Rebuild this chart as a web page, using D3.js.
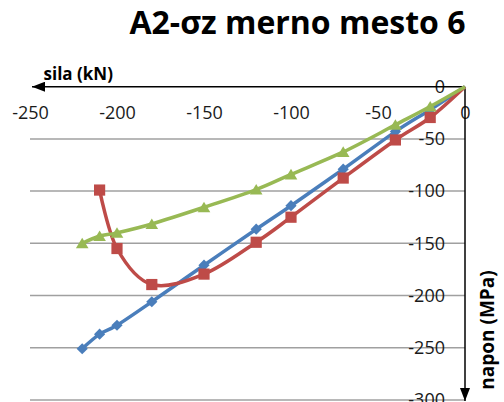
<!DOCTYPE html>
<html>
<head>
<meta charset="utf-8">
<script src="https://cdn.jsdelivr.net/npm/d3@7"></script>
<style>
  html, body { margin: 0; padding: 0; background: #fff; }
  svg { display: block; }
  text { font-family: "Open Sans", "Noto Sans", sans-serif; }
</style>
</head>
<body>
<svg id="chart" width="504" height="402"></svg>
<script>
// Force (kN) at each load step
const sila = [0, -20, -40, -70, -100, -120, -150, -180, -200, -210, -220];
// Stress (MPa) per gauge series
const series1 = [0, -22, -43, -79, -114, -136.5, -171, -206, -228.5, -237, -251];
const series2 = [0, -29.5, -51, -87.5, -125, -149, -179.5, -189.5, -155, -99];
const series3 = [0, -19, -36.5, -62.5, -84, -98.5, -115.5, -131.5, -140, -143, -150];
const xTicks = [-250, -200, -150, -100, -50, 0];
const yTicks = [0, -50, -100, -150, -200, -250, -300];

const title = "A2-σz merno mesto 6";
const xTitle = "sila (kN)";
const yTitle = "napon (MPa)";

const svg = d3.select("#chart");

const x = d3.scaleLinear().domain([-250, 0]).range([30, 465]);
const y = d3.scaleLinear().domain([0, -300]).range([86.7, 399.9]);

// plain hyphen-minus for tick labels
const fmt = d => String(d);

// horizontal gridlines
svg.append("g")
  .selectAll("line")
  .data(yTicks.filter(d => d !== 0))
  .join("line")
  .attr("x1", x(-250)).attr("x2", x(0))
  .attr("y1", d => y(d)).attr("y2", d => y(d))
  .attr("stroke", "#a0a0a0")
  .attr("stroke-width", 1.5);

// y tick labels, right-aligned left of the vertical axis
const yAxis = d3.axisLeft(y).tickValues(yTicks).tickFormat(fmt).tickSize(0).tickPadding(20);
svg.append("g")
  .attr("transform", `translate(${x(0)},0)`)
  .call(yAxis)
  .call(g => g.select(".domain").remove())
  .call(g => g.selectAll("text")
    .attr("font-size", 18)
    .attr("fill", "#1a1a1a")
    .attr("font-family", "Open Sans"));

// x tick labels, below the horizontal axis
const xAxis = d3.axisBottom(x).tickValues(xTicks).tickFormat(fmt).tickSize(0).tickPadding(20);
svg.append("g")
  .attr("transform", `translate(0,${y(0)})`)
  .call(xAxis)
  .call(g => g.select(".domain").remove())
  .call(g => g.selectAll("text")
    .attr("font-size", 18)
    .attr("fill", "#1a1a1a")
    .attr("font-family", "Open Sans"));

// arrowed axes
const defs = svg.append("defs");
defs.append("marker")
  .attr("id", "arrow")
  .attr("viewBox", "0 0 13 10")
  .attr("refX", 13).attr("refY", 5)
  .attr("markerWidth", 13).attr("markerHeight", 10)
  .attr("markerUnits", "userSpaceOnUse")
  .attr("orient", "auto")
  .append("path")
  .attr("d", "M0,0 L13,5 L0,10 Z")
  .attr("fill", "#000");

svg.append("line")
  .attr("x1", x(0)).attr("x2", 32)
  .attr("y1", y(0)).attr("y2", y(0))
  .attr("stroke", "#000").attr("stroke-width", 1.5)
  .attr("marker-end", "url(#arrow)");

svg.append("line")
  .attr("x1", x(0)).attr("x2", x(0))
  .attr("y1", y(0)).attr("y2", 401)
  .attr("stroke", "#000").attr("stroke-width", 1.5)
  .attr("marker-end", "url(#arrow)");

// data series
const line = d3.line()
  .x(d => x(d[0]))
  .y(d => y(d[1]))
  .curve(d3.curveCardinal.tension(0));

const diamond = "M0,-5.6 L5.6,0 L0,5.6 L-5.6,0 Z";
const square = "M-5.6,-5.6 L5.6,-5.6 L5.6,5.6 L-5.6,5.6 Z";
const triangle = "M0,-5.6 L6.3,5 L-6.3,5 Z";

const seriesDefs = [
  { values: series1, color: "#4a7ebb", marker: diamond },
  { values: series2, color: "#be4b48", marker: square },
  { values: series3, color: "#98b954", marker: triangle }
];

seriesDefs.forEach(s => {
  const pts = s.values.map((v, i) => [sila[i], v]);
  const g = svg.append("g");
  g.append("path")
    .attr("d", line(pts))
    .attr("fill", "none")
    .attr("stroke", s.color)
    .attr("stroke-width", 3.5)
    .attr("stroke-linejoin", "round");
  g.selectAll("path.m")
    .data(pts.slice(1))
    .join("path")
    .attr("class", "m")
    .attr("d", s.marker)
    .attr("transform", d => `translate(${x(d[0])},${y(d[1])})`)
    .attr("fill", s.color);
});

// titles
svg.append("text")
  .attr("x", 297.5).attr("y", 34)
  .attr("text-anchor", "middle")
  .attr("font-size", 32)
  .attr("font-weight", "bold")
  .attr("fill", "#000")
  .text(title);

svg.append("text")
  .attr("x", 43.5).attr("y", 80)
  .attr("font-size", 17)
  .attr("font-weight", "bold")
  .attr("fill", "#000")
  .text(xTitle);

svg.append("text")
  .attr("transform", "translate(494,330) rotate(-90)")
  .attr("text-anchor", "middle")
  .attr("font-size", 19)
  .attr("font-weight", "bold")
  .attr("fill", "#000")
  .text(yTitle);
</script>
</body>
</html>
